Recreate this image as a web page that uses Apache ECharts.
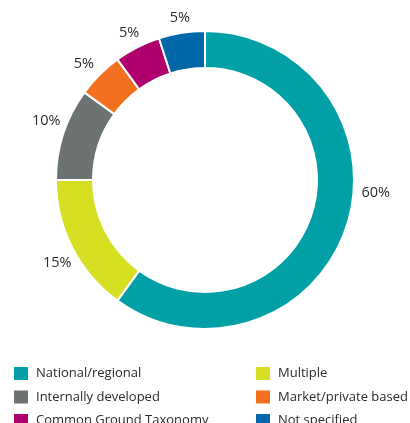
<!DOCTYPE html>
<html>
<head>
<meta charset="utf-8">
<script src="https://cdn.jsdelivr.net/npm/echarts@6/dist/echarts.min.js"></script>
<style>html,body{margin:0;padding:0;background:#fff;}#c{width:410px;height:423px;}</style>
</head>
<body>
<div id="c"></div>
<script>
var categories = ['National/regional', 'Multiple', 'Internally developed', 'Market/private based', 'Common Ground Taxonomy', 'Not specified'];
var values = [60, 15, 10, 5, 5, 5];
var colors = ['#00A0A6', '#D7DF23', '#6D7372', '#F37021', '#B0006E', '#0068A8'];
var legendLeft = ['National/regional', 'Internally developed', 'Common Ground Taxonomy'];
var legendRight = ['Multiple', 'Market/private based', 'Not specified'];
// small label nudges (style only)
var labelNudge = [[12, -39], [1, 7], [0, -8], [-3, 2], [0, 2], [1, 3]];

var FONT = "'Open Sans', 'Noto Sans', sans-serif";
var data = categories.map(function (n, i) { return { name: n, value: values[i], itemStyle: { color: colors[i] } }; });
var labelData = categories.map(function (n, i) { return { name: n, value: values[i] }; });

var chart = echarts.init(document.getElementById('c'), null, { renderer: 'canvas' });
var legendBase = {
  orient: 'vertical', itemWidth: 16, itemHeight: 15, itemGap: 6.5,
  icon: 'rect', selectedMode: false, height: 80, padding: 0,
  textStyle: { fontFamily: FONT, fontSize: 13, lineHeight: 15, color: '#2b2b2b', padding: [0, 0, 0, 2] }
};
chart.setOption({
  animation: false,
  legend: [
    Object.assign({}, legendBase, { data: legendLeft, left: 12, top: 365 }),
    Object.assign({}, legendBase, { data: legendRight, left: 254, top: 365 })
  ],
  series: [
    {
      type: 'pie', center: [205, 180], radius: [112, 149], startAngle: 90, clockwise: true,
      avoidLabelOverlap: false, silent: true,
      itemStyle: { borderColor: '#fff', borderWidth: 2 },
      label: { show: false }, labelLine: { show: false },
      data: data
    },
    {
      type: 'pie', center: [205, 180], radius: [151, 177], startAngle: 90, clockwise: true,
      avoidLabelOverlap: false, silent: true,
      itemStyle: { color: 'rgba(0,0,0,0)' },
      label: { show: true, position: 'inside', formatter: '{c}%', fontFamily: FONT, fontSize: 14.5, color: '#2b2b2b' },
      labelLine: { show: false },
      labelLayout: function (p) { var d = labelNudge[p.dataIndex]; return { dx: d[0], dy: d[1] }; },
      data: labelData
    }
  ]
});
</script>
</body>
</html>
